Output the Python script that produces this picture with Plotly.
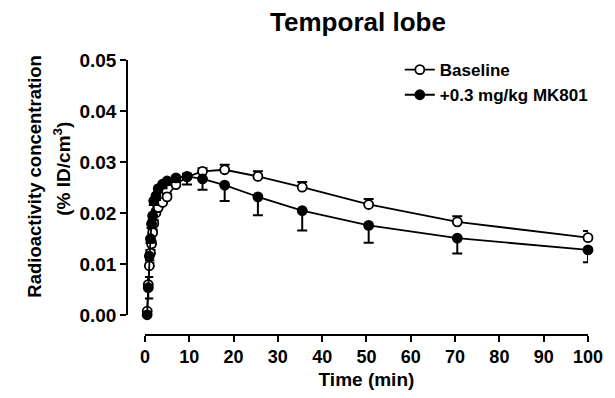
import plotly.graph_objects as go

# ---- data ----
time_min = [0.5, 0.75, 1.0, 1.25, 1.5, 1.75, 2.0, 2.5, 3.0, 4.0, 5.0, 7.0, 9.5,
            13, 18, 25.5, 35.5, 50.5, 70.5, 100]
baseline = [0.0008, 0.0060, 0.0097, 0.0122, 0.0140, 0.0162, 0.0180, 0.0201, 0.0211,
            0.0221, 0.0232, 0.0256, 0.0271, 0.0282, 0.0285, 0.0272, 0.0251, 0.0217,
            0.0183, 0.0152]
baseline_sem = [0.0003, 0.0015, 0.0006, 0.0006, 0.0006, 0.0006, 0.0006, 0.0006, 0.0006,
                0.0006, 0.0006, 0.0006, 0.0006, 0.0006, 0.0010, 0.0010, 0.0010, 0.0011,
                0.0011, 0.0013]
mk801 = [0.0001, 0.0054, 0.0116, 0.0150, 0.0179, 0.0195, 0.0224, 0.0234, 0.0248,
         0.0257, 0.0263, 0.0269, 0.0272, 0.0267, 0.0255, 0.0232, 0.0205, 0.0176,
         0.0151, 0.0128]
mk801_sem = [0.0003, 0.0021, 0.0008, 0.0008, 0.0008, 0.0008, 0.0008, 0.0008, 0.0008,
             0.0008, 0.0008, 0.0008, 0.0016, 0.0021, 0.0031, 0.0036, 0.0039, 0.0034,
             0.0030, 0.0024]
zeros = [0] * len(time_min)

x_ticks = list(range(0, 101, 10))
y_ticks = [0.00, 0.01, 0.02, 0.03, 0.04, 0.05]

FONT = "Liberation Sans, Arial, sans-serif"

fig = go.Figure()
fig.add_trace(go.Scatter(
    x=time_min, y=baseline, name="<b>Baseline</b>", mode="lines+markers",
    line=dict(color="black", width=1.8),
    marker=dict(symbol="circle", size=9, color="white", line=dict(color="black", width=1.8)),
    error_y=dict(type="data", symmetric=False, array=baseline_sem, arrayminus=zeros,
                 color="black", thickness=2, width=5),
    cliponaxis=False,
))
fig.add_trace(go.Scatter(
    x=time_min, y=mk801, name="<b>+0.3 mg/kg MK801</b>", mode="lines+markers",
    line=dict(color="black", width=1.8),
    marker=dict(symbol="circle", size=9, color="black", line=dict(color="black", width=1.8)),
    error_y=dict(type="data", symmetric=False, array=zeros, arrayminus=mk801_sem,
                 color="black", thickness=2, width=5),
    cliponaxis=False,
))

L, R, T, B = 127, 25, 60, 59
W, H = 615, 398
pw = W - L - R
ph = H - T - B

def px2x(px):
    return (px - L) / pw

def py2y(py):
    return (H - B - py) / ph

fig.update_layout(
    width=W, height=H,
    margin=dict(l=L, r=R, t=T, b=B, pad=0),
    paper_bgcolor="white", plot_bgcolor="white",
    font=dict(family=FONT, size=18, color="black"),
    title=dict(text="<b>Temporal lobe</b>", x=px2x(359), xref="paper", xanchor="center",
               y=1 - 22 / H, yanchor="middle", font=dict(size=26, family=FONT)),
    showlegend=True,
    legend=dict(x=px2x(401), y=py2y(52), xanchor="left", yanchor="top",
                bgcolor="rgba(0,0,0,0)", font=dict(size=17, family=FONT),
                tracegroupgap=0, itemwidth=30),
    xaxis=dict(
        domain=[px2x(145), 1], range=[0, 100], anchor="free", position=0,
        tickmode="array", tickvals=x_ticks, ticktext=[f"<b>{v}</b>" for v in x_ticks],
        ticks="outside", ticklen=6, tickwidth=1.5, tickcolor="black",
        tickfont=dict(size=18),
        showline=True, linecolor="black", linewidth=1.5, showgrid=False, zeroline=False,
        title=dict(text="<b>Time (min)</b>", font=dict(size=19), standoff=5),
    ),
    yaxis=dict(
        domain=[py2y(319), 1], range=[0, 0.05], anchor="free", position=0,
        tickmode="array", tickvals=y_ticks, ticktext=[f"<b>{v:.2f}</b>" for v in y_ticks],
        ticks="outside", ticklen=6, tickwidth=1.5, tickcolor="black",
        tickfont=dict(size=19),
        showline=True, linecolor="black", linewidth=1.5, showgrid=False, zeroline=False,
    ),
    annotations=[
        dict(text="<b>Radioactivity concentration</b>", textangle=-90,
             x=px2x(34), y=py2y(178), xref="paper", yref="paper",
             xanchor="center", yanchor="middle", showarrow=False, font=dict(size=18.5)),
        dict(text="<b>(% ID/cm<sup>3</sup>)</b>", textangle=-90,
             x=px2x(62), y=py2y(170), xref="paper", yref="paper",
             xanchor="center", yanchor="middle", showarrow=False, font=dict(size=19)),
    ],
)

fig.write_html("out.html")
